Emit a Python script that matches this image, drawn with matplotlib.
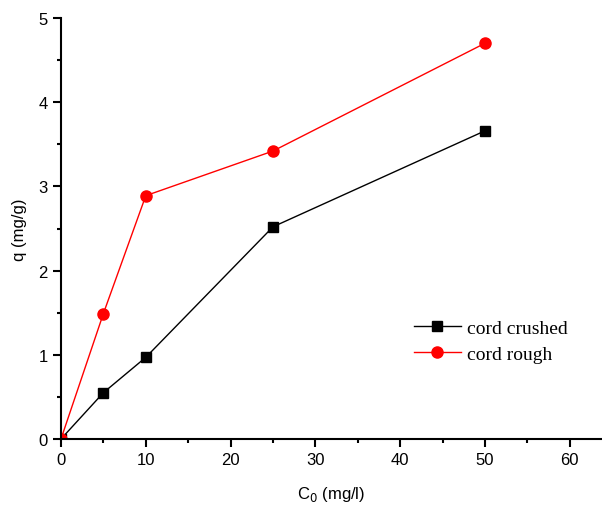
import matplotlib.pyplot as plt
from matplotlib.ticker import MultipleLocator

c0 = [0, 5, 10, 25, 50]
q_crushed = [0, 0.55, 0.97, 2.52, 3.66]
q_rough = [0, 1.49, 2.89, 3.42, 4.70]

plt.rcParams['font.family'] = ['Liberation Sans', 'DejaVu Sans']

fig = plt.figure(figsize=(6.02, 5.06), dpi=100)
ax = fig.add_axes([61 / 602, 66 / 506, 541 / 602, 421 / 506])

ax.plot(c0, q_crushed, color='black', lw=1, marker='s', ms=7.5, label='cord crushed')
ax.plot(c0, q_rough, color='red', lw=1, marker='o', ms=8, label='cord rough')

ax.set_xlim(0, 63.8)
ax.set_ylim(0, 5)
ax.xaxis.set_major_locator(MultipleLocator(10))
ax.xaxis.set_minor_locator(MultipleLocator(5))
ax.yaxis.set_major_locator(MultipleLocator(1))
ax.yaxis.set_minor_locator(MultipleLocator(0.5))
for s in ['top', 'right']:
    ax.spines[s].set_visible(False)
for s in ['left', 'bottom']:
    ax.spines[s].set_linewidth(1.5)
ax.tick_params(which='major', direction='out', length=6, width=1.5, labelsize=12)
ax.tick_params(which='minor', direction='out', length=3, width=1.5)

ax.set_xlabel('C$_0$ (mg/l)', fontsize=12, labelpad=12)
ax.set_ylabel('q (mg/g)', fontsize=12, labelpad=8)

ax.legend(loc='upper left', bbox_to_anchor=(0.638, 0.302), frameon=False,
          prop={'family': 'Liberation Serif', 'size': 14}, handlelength=2.4,
          handletextpad=0.35, labelspacing=0.4, borderaxespad=0)

fig.savefig('out.png', dpi=100)
